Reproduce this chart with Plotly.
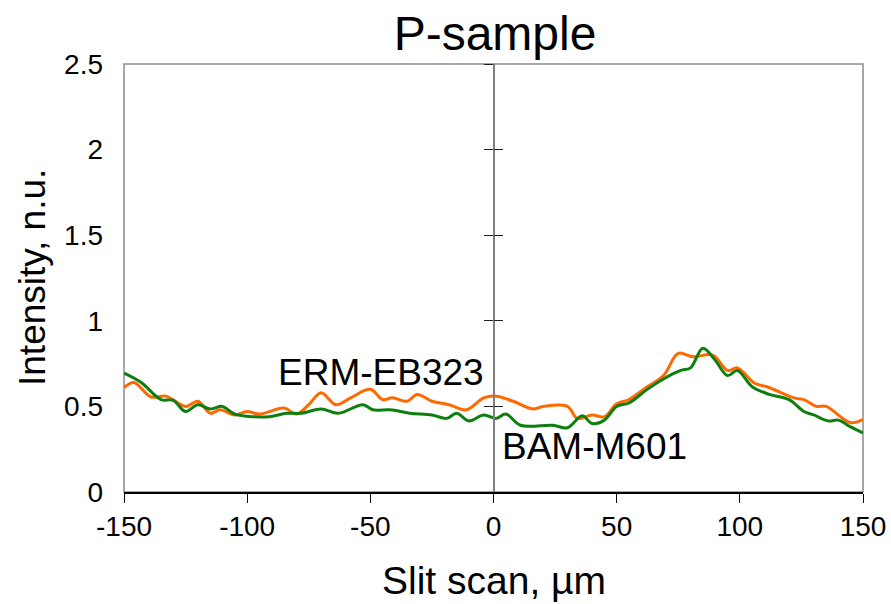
import plotly.graph_objects as go

# Data
erm_x = [-150, -146, -139, -133, -125, -120, -115, -111, -105, -100, -95, -85, -80, -75, -70,
         -64, -58, -50, -45, -41, -35, -31, -25, -18, -11, -4, 1, 8, 16, 20,
         30, 34, 40, 45, 50, 55, 62, 69, 75, 81, 89, 95, 99, 106, 111,
         122, 126, 131, 135, 145, 150]
erm_y = [0.61, 0.64, 0.555, 0.56, 0.50, 0.53, 0.46, 0.48, 0.45, 0.47, 0.455, 0.49, 0.455, 0.51, 0.58,
         0.51, 0.55, 0.60, 0.54, 0.55, 0.53, 0.57, 0.53, 0.51, 0.48, 0.55, 0.56, 0.53, 0.485, 0.50,
         0.50, 0.43, 0.45, 0.44, 0.515, 0.54, 0.61, 0.68, 0.81, 0.79, 0.80, 0.71, 0.725, 0.635, 0.615,
         0.55, 0.54, 0.50, 0.50, 0.405, 0.425]

bam_x = [-150, -143, -135, -130, -125, -120, -115, -110, -105, -91, -84, -78, -70, -63, -53,
         -49, -42, -34, -25, -19, -15, -10, -4, 1, 5, 11, 24, 30, 36, 40,
         45, 50, 55, 62, 69, 76, 80, 85, 90, 95, 99, 105, 112, 120, 126,
         130, 136, 140, 145, 150]
bam_y = [0.695, 0.64, 0.54, 0.535, 0.47, 0.51, 0.485, 0.50, 0.455, 0.44, 0.46, 0.46, 0.485, 0.46, 0.51,
         0.48, 0.48, 0.46, 0.45, 0.43, 0.46, 0.415, 0.45, 0.43, 0.455, 0.39, 0.39, 0.375, 0.445, 0.40,
         0.42, 0.50, 0.52, 0.595, 0.66, 0.71, 0.725, 0.84, 0.77, 0.68, 0.71, 0.615, 0.57, 0.54, 0.47,
         0.45, 0.415, 0.42, 0.38, 0.345]

x_ticks = [-150, -100, -50, 0, 50, 100, 150]
x_ticktext = ["-150", "-100", "-50", "0", "50", "100", "150"]
y_ticks = [0, 0.5, 1, 1.5, 2, 2.5]
y_ticktext = ["0", "0.5", "1", "1.5", "2", "2.5"]

FONT = "Liberation Sans"

fig = go.Figure()
fig.add_trace(go.Scatter(x=erm_x, y=erm_y, mode="lines", name="ERM-EB323",
                         line=dict(color="#FF6A00", width=3, shape="spline", smoothing=1.0)))
fig.add_trace(go.Scatter(x=bam_x, y=bam_y, mode="lines", name="BAM-M601",
                         line=dict(color="#0E7F0E", width=3, shape="spline", smoothing=1.0)))
# invisible traces so that the central axes are drawn
fig.add_trace(go.Scatter(x=[None], y=[None], yaxis="y2", showlegend=False, hoverinfo="skip"))
fig.add_trace(go.Scatter(x=[None], y=[None], yaxis="y3", showlegend=False, hoverinfo="skip"))

center_axis = dict(overlaying="y", anchor="free", position=0.5, range=[0, 2.5],
                   tickvals=y_ticks[1:], showticklabels=False, showgrid=False, zeroline=False,
                   showline=True, linecolor="#808080", linewidth=1.5,
                   ticklen=9, tickwidth=1.2, tickcolor="#222222")

fig.update_layout(
    width=891, height=604,
    margin=dict(l=124, r=28, t=64, b=112, autoexpand=False),
    paper_bgcolor="white", plot_bgcolor="white",
    showlegend=False,
    font=dict(family=FONT, color="black"),
    title=dict(text="P-sample", x=495 / 891, xanchor="center", y=1 - 33 / 604, yanchor="middle",
               font=dict(size=48, family=FONT)),
    xaxis=dict(range=[-150, 150], tickvals=x_ticks, ticktext=x_ticktext, ticks="outside", ticklen=9,
               tickcolor="black", tickwidth=1.2, showline=True, linecolor="black", linewidth=1.5,
               showgrid=False, zeroline=False, tickfont=dict(size=28), automargin=False),
    yaxis=dict(range=[0, 2.5], tickvals=y_ticks, ticktext=y_ticktext, ticks="",
               showline=False, showgrid=False, zeroline=False, tickfont=dict(size=28),
               ticklabelstandoff=20, automargin=False),
    yaxis2=dict(center_axis, ticks="outside"),
    yaxis3=dict(center_axis, ticks="inside"),
    shapes=[dict(type="rect", xref="paper", yref="paper", x0=0, y0=0, x1=1, y1=1,
                 line=dict(color="#8c8c8c", width=1.5), layer="below")],
    annotations=[
        dict(text="ERM-EB323", x=-45.7, y=0.70, xref="x", yref="y", showarrow=False,
             font=dict(size=37, family=FONT)),
        dict(text="BAM-M601", x=41.2, y=0.263, xref="x", yref="y", showarrow=False,
             font=dict(size=37, family=FONT)),
        dict(text="Slit scan, µm", x=0.5, y=(492 - 580) / 428, xref="paper", yref="paper",
             xanchor="center", yanchor="middle", showarrow=False, font=dict(size=39, family=FONT)),
        dict(text="Intensity, n.u.", x=(32 - 124) / 739, y=(492 - 278) / 428, xref="paper",
             yref="paper", xanchor="center", yanchor="middle", textangle=-90, showarrow=False,
             font=dict(size=37, family=FONT)),
    ],
)

fig.write_html("out.html")
